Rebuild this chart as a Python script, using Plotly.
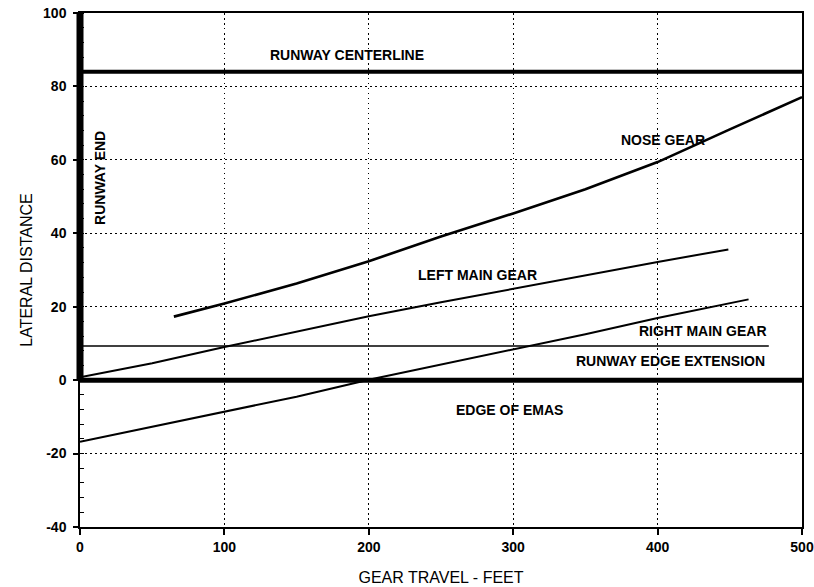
import plotly.graph_objects as go

# Gear tracks: travel along the bed (ft) vs lateral distance (ft)
nose_x = [65, 100, 150, 200, 250, 300, 350, 400, 450, 500]
nose_y = [17.3, 20.9, 26.3, 32.4, 39.1, 45.4, 52.0, 59.4, 68.3, 77.1]

left_main_x = [0, 50, 100, 150, 200, 250, 300, 350, 400, 449]
left_main_y = [0.8, 4.6, 9.0, 13.3, 17.4, 21.2, 24.9, 28.6, 32.2, 35.6]

right_main_x = [0, 50, 100, 150, 200, 250, 300, 350, 400, 463]
right_main_y = [-16.8, -12.7, -8.6, -4.5, 0.1, 4.2, 8.2, 12.5, 16.9, 22.0]

# Runway reference lines
centerline_x = [0, 500]
centerline_y = [84, 84]
edge_ext_x = [0, 477]
edge_ext_y = [9.3, 9.3]
emas_edge_x = [0, 500]
emas_edge_y = [0, 0]
runway_end_y = [0, 100]

x_ticks = [0, 100, 200, 300, 400, 500]
y_ticks = [-40, -20, 0, 20, 40, 60, 80, 100]

FONT = "Liberation Sans, Arial, sans-serif"

fig = go.Figure()


def track(x, y, width):
    fig.add_trace(go.Scatter(
        x=x, y=y, mode="lines",
        line=dict(color="black", width=width),
        hoverinfo="skip", showlegend=False,
    ))


track(nose_x, nose_y, 2.6)
track(left_main_x, left_main_y, 2)
track(right_main_x, right_main_y, 2)
track(edge_ext_x, edge_ext_y, 1.5)
track(centerline_x, centerline_y, 4)
track(emas_edge_x, emas_edge_y, 5)

# Runway end: heavy bar along the left edge from 0 to 100
fig.add_shape(
    type="line", xref="paper", yref="y",
    x0=0, x1=0, y0=runway_end_y[0], y1=runway_end_y[1],
    line=dict(color="black", width=7), layer="above",
)

label_font = dict(family=FONT, size=14, color="black", weight="bold")
labels = [
    ("RUNWAY CENTERLINE", 184.7, 88.6, 0),
    ("NOSE GEAR", 404, 65.4, 0),
    ("LEFT MAIN GEAR", 275.3, 28.6, 0),
    ("RIGHT MAIN GEAR", 431.6, 13.3, 0),
    ("RUNWAY EDGE EXTENSION", 408.6, 5.3, 0),
    ("EDGE OF EMAS", 297.2, -8.2, 0),
    ("RUNWAY END", 13.9, 55.1, -90),
]
for text, lx, ly, ang in labels:
    fig.add_annotation(
        x=lx, y=ly, xref="x", yref="y", text=text, showarrow=False,
        textangle=ang, xanchor="center", yanchor="middle", font=label_font,
    )

grid = dict(showgrid=True, gridcolor="black", gridwidth=1.4, griddash="1.5px,3.5px")

fig.update_xaxes(
    range=[0, 500], tickvals=x_ticks, ticktext=[str(v) for v in x_ticks],
    ticks="outside", ticklen=6, tickwidth=1.5, tickcolor="black",
    showline=True, linecolor="black", linewidth=1.5, mirror=True,
    zeroline=False, layer="below traces", automargin=False,
    tickfont=dict(family=FONT, size=14, color="black", weight="bold"),
    title=dict(text="GEAR TRAVEL - FEET", standoff=18,
               font=dict(family=FONT, size=16, color="black")),
    **grid,
)
fig.update_yaxes(
    range=[-40, 100], tickvals=y_ticks, ticktext=[str(v) for v in y_ticks],
    ticks="outside", ticklen=5, tickwidth=1.5, tickcolor="black",
    ticklabelstandoff=4,
    minor=dict(dtick=4, tick0=0, ticks="inside", ticklen=4, tickwidth=1.2,
               tickcolor="black", showgrid=False),
    showline=True, linecolor="black", linewidth=1.5, mirror=True,
    zeroline=False, layer="below traces", automargin=False,
    tickfont=dict(family=FONT, size=14, color="black", weight="bold"),
    title=dict(text="LATERAL DISTANCE", standoff=6,
               font=dict(family=FONT, size=16, color="black")),
    **grid,
)

fig.update_layout(
    width=814, height=587,
    margin=dict(l=80, r=12, t=13, b=60),
    paper_bgcolor="white", plot_bgcolor="white",
    showlegend=False,
)

fig.write_html("out.html")
